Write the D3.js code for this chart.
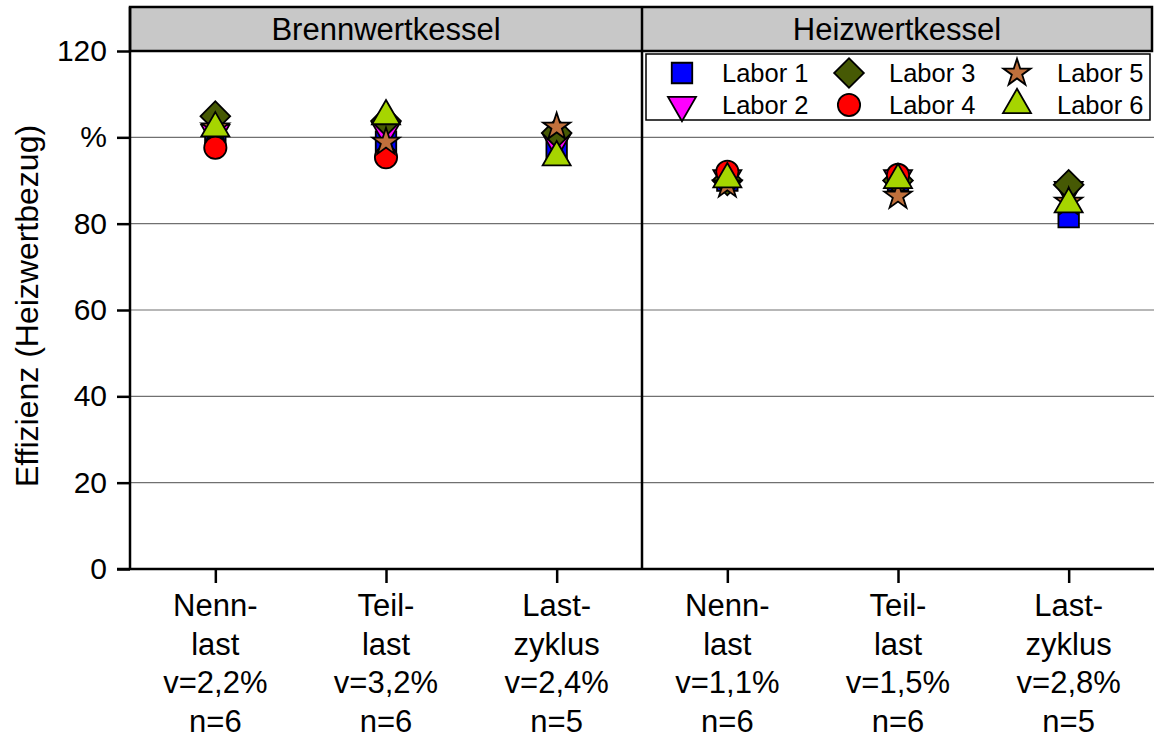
<!DOCTYPE html>
<html><head><meta charset="utf-8">
<script src="https://cdn.jsdelivr.net/npm/d3@7"></script>
<style>body{margin:0;background:#fff}svg{display:block}text{font-family:"Liberation Sans",Arial,sans-serif;fill:#000}</style>
</head><body><svg id="c" width="1154" height="740"></svg>
<script>
const panels = ["Brennwertkessel", "Heizwertkessel"];
const categories = ["Nennlast", "Teillast", "Lastzyklus"];
const catLabels = [
  ["Nenn-", "last", "v=2,2%", "n=6"],
  ["Teil-", "last", "v=3,2%", "n=6"],
  ["Last-", "zyklus", "v=2,4%", "n=5"],
  ["Nenn-", "last", "v=1,1%", "n=6"],
  ["Teil-", "last", "v=1,5%", "n=6"],
  ["Last-", "zyklus", "v=2,8%", "n=5"]
];
const seriesNames = ["Labor 1", "Labor 2", "Labor 3", "Labor 4", "Labor 5", "Labor 6"];
// values: Brennwert Nenn, Teil, Last, Heizwert Nenn, Teil, Last (null = no value)
const labor1 = [100.5, 99.0, 97.0, 90.0, 90.0, 81.5];
const labor2 = [101.0, 101.5, 98.9, 90.5, 90.5, 87.8];
const labor3 = [104.9, 103.8, 101.0, 90.0, 90.0, 89.0];
const labor4 = [97.6, 95.4, null, 92.0, 91.3, null];
const labor5 = [102.2, 98.9, 102.4, 89.0, 86.4, 85.0];
const labor6 = [102.1, 104.9, 95.4, 90.3, 90.1, 84.5];
const yTicks = [0, 20, 40, 60, 80, 100, 120];
const yTickLabels = ["0", "20", "40", "60", "80", "%", "120"];

const series = [labor1, labor2, labor3, labor4, labor5, labor6];
const colors = ["#0000ff", "#ff00ff", "#465904", "#ff0000", "#c0703c", "#a6d500"];
const sym = [
  {t: d3.symbolSquare, s: 420, r: 0},
  {t: d3.symbolTriangle, s: 340, r: 180},
  {t: d3.symbolSquare, s: 440, r: 45},
  {t: d3.symbolCircle, s: 390, r: 0},
  {t: d3.symbolStar, s: 230, r: 0},
  {t: d3.symbolTriangle, s: 340, r: 0}
];

const svg = d3.select("#c");
const X0 = 130, XM = 642, X1 = 1152, HT = 7, YB = 569;
const y = d3.scaleLinear().domain([0, 120]).range([YB, 51]);
const xs = [
  d3.scalePoint().domain(categories).range([X0, XM]).padding(0.5),
  d3.scalePoint().domain(categories).range([XM, X1 + 2]).padding(0.5)
];
const font = 31;

// gridlines
svg.append("g").selectAll("line").data(yTicks.filter(v => v > 0 && v < 120)).join("line")
  .attr("x1", X0).attr("x2", X1 + 2).attr("y1", d => y(d)).attr("y2", d => y(d))
  .attr("stroke", "#707070").attr("stroke-width", 1.2);

// header strip
svg.append("rect").attr("x", X0).attr("y", HT).attr("width", X1 - X0).attr("height", y(120) - HT)
  .attr("fill", "#c8c8c8").attr("stroke", "#000").attr("stroke-width", 2.5);
panels.forEach((p, i) => {
  const cx = i === 0 ? (X0 + XM) / 2 : (XM + X1) / 2;
  svg.append("text").attr("x", cx).attr("y", 40).attr("text-anchor", "middle")
    .attr("font-size", font).text(p);
});

// divider
svg.append("line").attr("x1", XM).attr("x2", XM).attr("y1", HT).attr("y2", YB)
  .attr("stroke", "#000").attr("stroke-width", 2.5);

// y axis
const yAxis = d3.axisLeft(y).tickValues(yTicks).tickSize(13).tickPadding(10)
  .tickFormat((d, i) => yTickLabels[i]);
const gy = svg.append("g").attr("transform", `translate(${X0},0)`).call(yAxis);
gy.select(".domain").remove();
gy.selectAll(".tick line").attr("stroke", "#000").attr("stroke-width", 2.5);
gy.selectAll(".tick text").attr("font-size", 30).attr("font-family", '"Liberation Sans",Arial,sans-serif').attr("fill", "#000");
svg.append("line").attr("x1", X0).attr("x2", X0).attr("y1", HT).attr("y2", YB)
  .attr("stroke", "#000").attr("stroke-width", 2.5);

// x axes
xs.forEach((xsc, pi) => {
  const g = svg.append("g").attr("transform", `translate(0,${YB})`)
    .call(d3.axisBottom(xsc).tickSize(14).tickFormat(""));
  g.select(".domain").remove();
  g.selectAll(".tick line").attr("stroke", "#000").attr("stroke-width", 2.5);
  categories.forEach((c, ci) => {
    const lines = catLabels[pi * 3 + ci];
    lines.forEach((l, li) => {
      svg.append("text").attr("x", xsc(c)).attr("y", 616 + li * 38.5)
        .attr("text-anchor", "middle").attr("font-size", font).text(l);
    });
  });
});
svg.append("line").attr("x1", 117).attr("x2", 1154).attr("y1", YB).attr("y2", YB)
  .attr("stroke", "#000").attr("stroke-width", 2.5);

// y title
svg.append("text").attr("transform", `translate(38,306) rotate(-90)`)
  .attr("text-anchor", "middle").attr("font-size", 32).text("Effizienz (Heizwertbezug)");

// points
series.forEach((vals, si) => {
  const s = sym[si];
  const pts = vals.map((v, i) => ({v, i})).filter(d => d.v != null);
  svg.append("g").selectAll("path").data(pts).join("path")
    .attr("d", d3.symbol().type(s.t).size(s.s))
    .attr("transform", d => {
      const xsc = xs[Math.floor(d.i / 3)];
      return `translate(${xsc(categories[d.i % 3])},${y(d.v)}) rotate(${s.r})`;
    })
    .attr("fill", colors[si]).attr("stroke", "#000").attr("stroke-width", 1.8);
});

// legend
const lg = svg.append("g");
lg.append("rect").attr("x", 646).attr("y", 54).attr("width", 504).attr("height", 66)
  .attr("fill", "#fff").attr("stroke", "#000").attr("stroke-width", 1.5);
const legX = [682, 849, 1017];
const legY = [73, 105];
seriesNames.forEach((n, i) => {
  const col = Math.floor(i / 2), row = i % 2;
  const s = sym[i];
  lg.append("path").attr("d", d3.symbol().type(s.t).size(s.s))
    .attr("transform", `translate(${legX[col]},${legY[row]}) rotate(${s.r})`)
    .attr("fill", colors[i]).attr("stroke", "#000").attr("stroke-width", 1.8);
  lg.append("text").attr("x", legX[col] + 40).attr("y", legY[row] + 9)
    .attr("font-size", 25.5).text(n);
});
</script></body></html>
